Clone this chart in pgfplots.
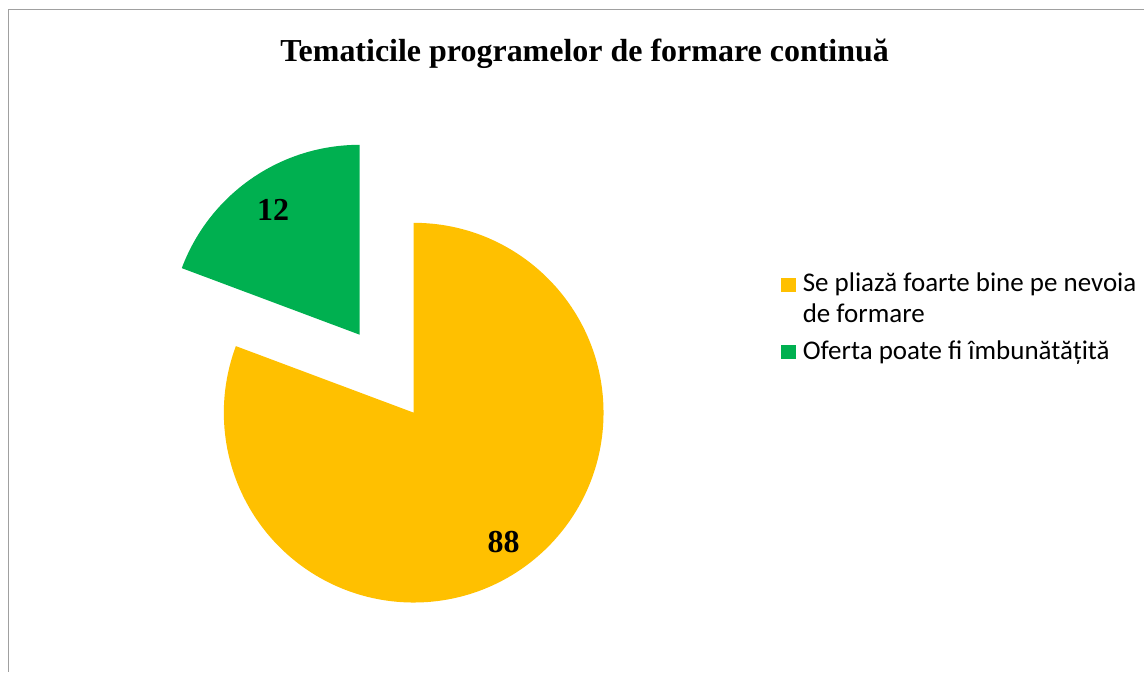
\documentclass[border=0pt]{standalone}
\usepackage{pgfplots}
\usepackage{pgfplotstable}
\pgfplotsset{compat=1.18}
\usepackage{fontspec}
\setmainfont{Liberation Serif}
\newfontfamily\legfont{Carlito}
\definecolor{pieorange}{HTML}{FFC000}
\definecolor{piegreen}{HTML}{00B050}
\definecolor{framegray}{HTML}{A0A0A0}

\pgfplotstableread{
share label
80.7 88
19.3 12
}\piedata

\begin{document}
\begin{tikzpicture}
\pgfplotstablegetelem{0}{share}\of\piedata \let\sA\pgfplotsretval
\pgfplotstablegetelem{1}{share}\of\piedata \let\sB\pgfplotsretval
\pgfplotstablegetelem{0}{label}\of\piedata \let\lA\pgfplotsretval
\pgfplotstablegetelem{1}{label}\of\piedata \let\lB\pgfplotsretval
% centre of pie (axis units = pixels), radius 190 px = 95pt
\pgfmathsetmacro\cx{414}
\pgfmathsetmacro\cy{260}
\pgfmathsetmacro\aEnd{90-3.6*\sA}
\pgfmathsetmacro\midA{90-1.8*\sA}
\pgfmathsetmacro\bEnd{90+3.6*\sB}
\pgfmathsetmacro\midB{90+1.8*\sB}
\pgfmathsetmacro\gx{\cx+95*cos(\midB)}
\pgfmathsetmacro\gy{\cy+95*sin(\midB)}
\pgfmathsetmacro\lax{\cx+158*cos(\midA)}
\pgfmathsetmacro\lay{\cy+158*sin(\midA)}
\pgfmathsetmacro\lbx{\gx+152*cos(\midB)}
\pgfmathsetmacro\lby{\gy+152*sin(\midB)}
\begin{axis}[
  scale only axis, width=572.5pt, height=336.5pt,
  xmin=0, xmax=1145, ymin=0, ymax=673,
  hide axis, clip=false,
]
\addplot[draw=none, forget plot] coordinates {(0,0) (1145,673)};
\path (axis cs:0,0) rectangle (axis cs:1145,673);
% frame
\draw[framegray, line width=0.9pt] (axis cs:1145,663.5) -- (axis cs:8.5,663.5) -- (axis cs:8.5,0);
% title
\node[font=\fontsize{16}{18}\selectfont\bfseries] at (axis cs:585,619) {Tematicile programelor de formare continuă};
% slices
\fill[pieorange] (axis cs:\cx,\cy) -- ++(90:95pt) arc[start angle=90, end angle=\aEnd, radius=95pt] -- cycle;
\fill[piegreen] (axis cs:\gx,\gy) -- ++(90:95pt) arc[start angle=90, end angle=\bEnd, radius=95pt] -- cycle;
% data labels
\node[font=\fontsize{16}{18}\selectfont\bfseries] at (axis cs:\lax,\lay) {\lA};
\node[font=\fontsize{16}{18}\selectfont\bfseries] at (axis cs:\lbx,\lby) {\lB};
% legend
\fill[pieorange] (axis cs:782,381) rectangle (axis cs:797,395);
\fill[piegreen] (axis cs:782,314) rectangle (axis cs:797,328);
\node[font=\legfont\fontsize{13.5}{15.5}\selectfont, anchor=base west, inner sep=0pt] at (axis cs:803,381) {Se pliază foarte bine pe nevoia};
\node[font=\legfont\fontsize{13.5}{15.5}\selectfont, anchor=base west, inner sep=0pt] at (axis cs:803,350) {de formare};
\node[font=\legfont\fontsize{13.5}{15.5}\selectfont, anchor=base west, inner sep=0pt] at (axis cs:803,313) {Oferta poate fi îmbunătățită};
\end{axis}
\end{tikzpicture}
\end{document}
